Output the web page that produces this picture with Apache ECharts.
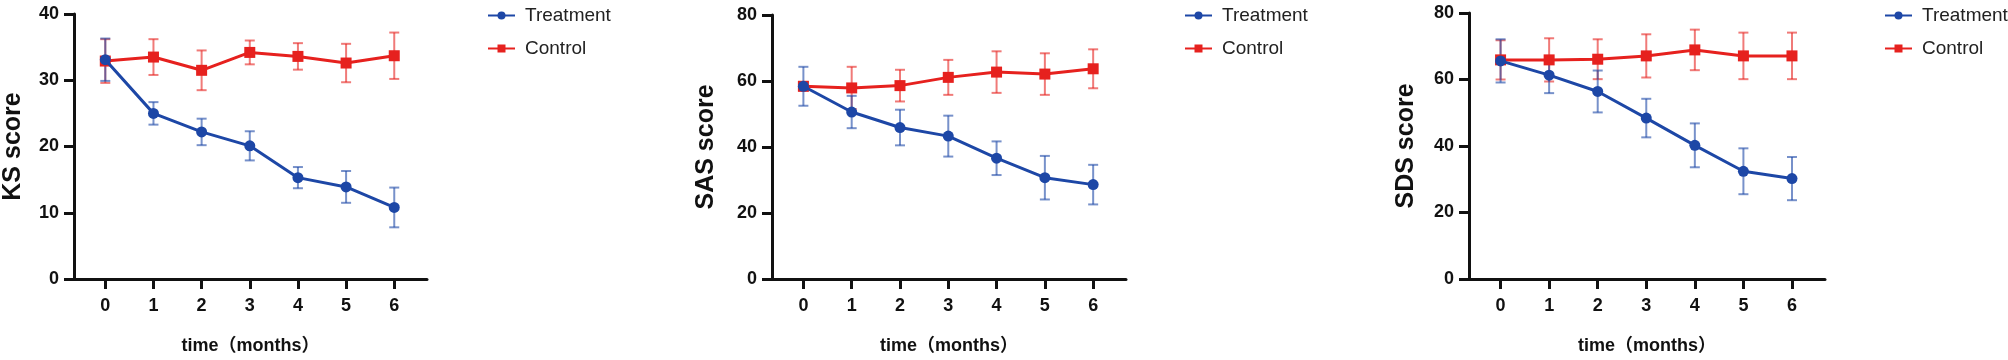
<!DOCTYPE html>
<html>
<head>
<meta charset="utf-8">
<script src="https://cdn.jsdelivr.net/npm/echarts@6/dist/echarts.min.js"></script>
<style>
  html, body { margin: 0; padding: 0; background: #fff; }
  #chart { width: 2008px; height: 360px; }
</style>
</head>
<body>
<div id="chart"></div>
<script>
const months = [0, 1, 2, 3, 4, 5, 6];
const seriesNames = ["Treatment", "Control"];
const panelTitles = ["KS score", "SAS score", "SDS score"];
const xTitle = "time（months）";

const ksTreatment = [33.1, 25.0, 22.2, 20.1, 15.3, 13.9, 10.8];
const ksTreatmentSd = [3.2, 1.7, 2.0, 2.2, 1.6, 2.4, 3.0];
const ksControl = [32.9, 33.5, 31.5, 34.2, 33.6, 32.6, 33.7];
const ksControlSd = [3.3, 2.7, 3.0, 1.8, 2.0, 2.9, 3.5];

const sasTreatment = [58.4, 50.6, 45.9, 43.3, 36.6, 30.7, 28.6];
const sasTreatmentSd = [5.9, 4.9, 5.4, 6.2, 5.1, 6.6, 6.0];
const sasControl = [58.4, 57.9, 58.6, 61.1, 62.7, 62.1, 63.7];
const sasControlSd = [1.3, 6.4, 4.8, 5.3, 6.3, 6.3, 5.9];

const sdsTreatment = [65.6, 61.3, 56.4, 48.4, 40.2, 32.4, 30.2];
const sdsTreatmentSd = [6.5, 5.4, 6.3, 5.8, 6.6, 6.9, 6.5];
const sdsControl = [65.9, 65.9, 66.1, 67.1, 68.9, 67.1, 67.1];
const sdsControlSd = [5.9, 6.5, 6.0, 6.5, 6.1, 7.0, 7.0];

const yMax = [40, 80, 80];
const yStep = [10, 20, 20];

const BLUE = "#1d47a6";
const RED = "#e6211e";
const AXIS = "#111";
const FONT = "'Liberation Sans', Arial, 'Noto Sans CJK SC', sans-serif";

const panels = [
  { t: ksTreatment, tSd: ksTreatmentSd, c: ksControl, cSd: ksControlSd,
    grid: { left: 70, top: 14, width: 357, height: 267 }, nameGap: 48, legendLeft: 482 },
  { t: sasTreatment, tSd: sasTreatmentSd, c: sasControl, cSd: sasControlSd,
    grid: { left: 772, top: 15, width: 354, height: 266 }, nameGap: 53, legendLeft: 1179 },
  { t: sdsTreatment, tSd: sdsTreatmentSd, c: sdsControl, cSd: sdsControlSd,
    grid: { left: 1469, top: 13, width: 356, height: 269 }, nameGap: 50, legendLeft: 1879 }
];

function errorData(mean, sd) {
  return months.map((m, i) => [m, mean[i] - sd[i], mean[i] + sd[i]]);
}

function renderErrorBar(params, api) {
  const x = api.value(0);
  const lo = api.coord([x, api.value(1)]);
  const hi = api.coord([x, api.value(2)]);
  const half = 5;
  const style = { stroke: api.visual("color"), lineWidth: 2, opacity: 0.6 };
  return {
    type: "group",
    children: [
      { type: "line", shape: { x1: lo[0], y1: lo[1], x2: hi[0], y2: hi[1] }, style },
      { type: "line", shape: { x1: hi[0] - half, y1: hi[1], x2: hi[0] + half, y2: hi[1] }, style },
      { type: "line", shape: { x1: lo[0] - half, y1: lo[1], x2: lo[0] + half, y2: lo[1] }, style }
    ]
  };
}

const grid = [], xAxis = [], yAxis = [], legend = [], series = [];

panels.forEach((p, k) => {
  grid.push(p.grid);
  xAxis.push({
    type: "value", gridIndex: k, min: -0.65, max: 6.68,
    name: xTitle, nameLocation: "middle", nameGap: 58,
    nameTextStyle: { fontFamily: FONT, fontWeight: "bold", fontSize: 18, color: AXIS },
    axisLine: { onZero: false, lineStyle: { color: AXIS, width: 3 } },
    axisTick: { customValues: months, length: 10, lineStyle: { color: AXIS, width: 3 } },
    axisLabel: { customValues: months, margin: 18, fontFamily: FONT, fontWeight: "bold", fontSize: 18, color: AXIS },
    splitLine: { show: false }
  });
  yAxis.push({
    type: "value", gridIndex: k, min: 0, max: yMax[k], interval: yStep[k],
    name: panelTitles[k], nameLocation: "middle", nameGap: p.nameGap, nameRotate: 90,
    nameTextStyle: { fontFamily: FONT, fontWeight: "bold", fontSize: 25, color: AXIS },
    axisLine: { show: true, onZero: false, lineStyle: { color: AXIS, width: 3 } },
    axisTick: { show: true, length: 10, lineStyle: { color: AXIS, width: 3 } },
    axisLabel: { margin: 15, fontFamily: FONT, fontWeight: "bold", fontSize: 18, color: AXIS },
    splitLine: { show: false }
  });
  legend.push({
    data: seriesNames, left: p.legendLeft, top: 1, orient: "vertical",
    itemWidth: 27, itemHeight: 10, itemGap: 14,
    textStyle: { fontFamily: FONT, fontSize: 19, color: "#222", padding: [0, 0, 0, 5] }
  });

  series.push(
    { type: "custom", name: "Control SD", xAxisIndex: k, yAxisIndex: k, z: 1,
      itemStyle: { color: RED }, renderItem: renderErrorBar,
      encode: { x: 0, y: [1, 2] }, data: errorData(p.c, p.cSd) },
    { type: "custom", name: "Treatment SD", xAxisIndex: k, yAxisIndex: k, z: 1,
      itemStyle: { color: BLUE }, renderItem: renderErrorBar,
      encode: { x: 0, y: [1, 2] }, data: errorData(p.t, p.tSd) },
    { type: "line", name: "Control", xAxisIndex: k, yAxisIndex: k, z: 2,
      symbol: "rect", symbolSize: 11, color: RED, lineStyle: { width: 3 },
      data: months.map((m, i) => [m, p.c[i]]) },
    { type: "line", name: "Treatment", xAxisIndex: k, yAxisIndex: k, z: 3,
      symbol: "circle", symbolSize: 11, color: BLUE, lineStyle: { width: 3 },
      data: months.map((m, i) => [m, p.t[i]]) }
  );
});

const chart = echarts.init(document.getElementById("chart"));
chart.setOption({
  animation: false,
  backgroundColor: "#fff",
  grid, xAxis, yAxis, legend, series
});
</script>
</body>
</html>
